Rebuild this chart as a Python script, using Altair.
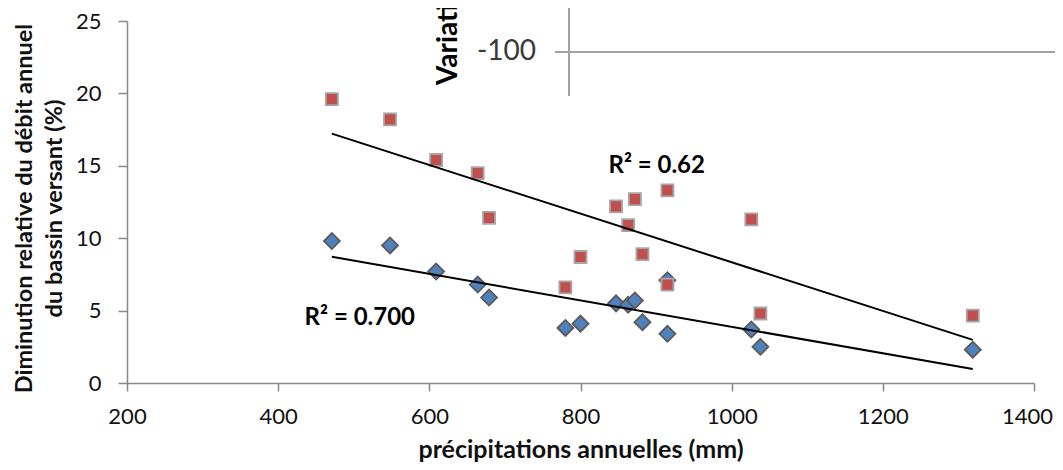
import altair as alt
import pandas as pd

# Data
precip = [471, 548, 609, 664, 679, 780, 800, 847, 863, 872, 882, 915, 915, 1026, 1038, 1319]
dim_blue = [9.8, 9.5, 7.7, 6.8, 5.9, 3.8, 4.1, 5.5, 5.4, 5.7, 4.2, 3.4, 7.1, 3.7, 2.5, 2.3]
dim_red = [19.6, 18.2, 15.4, 14.5, 11.4, 6.6, 8.7, 12.2, 10.9, 12.7, 8.9, 13.3, 6.8, 11.3, 4.8, 4.65]

x_ticks = [200, 400, 600, 800, 1000, 1200, 1400]
y_ticks = [0, 5, 10, 15, 20, 25]

r2_labels = ["R² = 0.62", "R² = 0.700"]
r2_x = [837, 435]
r2_y = [15.0, 4.5]

FONT = "Lato"
AX = "#888888"

df_b = pd.DataFrame({"P": precip, "D": dim_blue})
df_r = pd.DataFrame({"P": precip, "D": dim_red})
df_t = pd.DataFrame({"P": r2_x, "D": r2_y, "t": r2_labels})

xenc = alt.X(
    "P:Q",
    scale=alt.Scale(domain=[200, 1400], nice=False, zero=False),
    axis=alt.Axis(
        values=x_ticks, format="d", title="précipitations annuelles (mm)", grid=False,
        domainColor=AX, domainWidth=1.5, tickColor=AX, tickWidth=1.5, tickSize=8,
        labelFont=FONT, labelFontSize=22, labelColor="#111", labelPadding=15,
        labelOffset=alt.ExprRef(expr="datum.value == 1400 ? -7 : 0"),
        titleFont=FONT, titleFontSize=25, titleFontWeight="bold", titleColor="#111",
        titlePadding=10, labelFlush=False,
    ),
)
yenc = alt.Y(
    "D:Q",
    scale=alt.Scale(domain=[0, 25], nice=False),
    axis=alt.Axis(
        values=y_ticks,
        title=["Diminution relative du débit annuel", "du bassin versant (%)"],
        grid=False,
        domainColor=AX, domainWidth=1.5, tickColor=AX, tickWidth=1.5, tickSize=9,
        labelFont=FONT, labelFontSize=22, labelColor="#111", labelPadding=17,
        titleFont=FONT, titleFontSize=23.5, titleFontWeight="bold", titleColor="#111",
        titleLineHeight=30, titlePadding=9, titleY=187,
    ),
)

blue_pts = alt.Chart(df_b).mark_point(
    shape="diamond", filled=True, fill="#4F81BD", stroke="#5a5a5a",
    strokeWidth=1.8, size=256, opacity=1,
).encode(x=xenc, y=yenc)

red_pts = alt.Chart(df_r).mark_point(
    shape="square", filled=True, fill="#C0504D", stroke="#A6A6A6",
    strokeWidth=1.8, size=144, opacity=1,
).encode(x=xenc, y=yenc)

blue_fit = alt.Chart(df_b).transform_regression("P", "D").mark_line(
    color="black", strokeWidth=2
).encode(x=xenc, y=yenc)

red_fit = alt.Chart(df_r).transform_regression("P", "D").mark_line(
    color="black", strokeWidth=2
).encode(x=xenc, y=yenc)

r2_text = alt.Chart(df_t).mark_text(
    font=FONT, fontSize=24, fontWeight="bold", color="black",
    align="left", baseline="middle",
).encode(x=xenc, y=yenc, text="t:N")

# Fragment of an overlapping chart visible in the reference (top)
art_df = pd.DataFrame({"k": [0]})
art_h = alt.Chart(art_df).mark_rule(color="#a0a0a0", strokeWidth=2).encode(
    x=alt.value(428), x2=alt.value(940), y=alt.value(31)
)
art_v = alt.Chart(art_df).mark_rule(color="#a0a0a0", strokeWidth=2).encode(
    x=alt.value(442), y=alt.value(-21), y2=alt.value(75)
)
art_num = alt.Chart(art_df).mark_text(
    text="-100", font=FONT, fontSize=28, color="#3a3a3a", align="right", baseline="middle"
).encode(x=alt.value(409), y=alt.value(31))
art_title = alt.Chart(art_df).mark_text(
    text="Variation", font=FONT, fontSize=28, fontWeight="bold", color="black",
    align="left", baseline="middle", angle=270,
).encode(x=alt.value(322), y=alt.value(64))

chart = alt.layer(
    blue_pts, red_pts, blue_fit, red_fit, r2_text, art_h, art_v, art_num, art_title
).properties(
    width=907, height=362,
    autosize=alt.AutoSizeParams(type="none"),
    padding={"left": 119, "top": 13, "right": 21, "bottom": 79},
).configure_view(stroke=None)

chart.save("out.html", embed_options={"renderer": "svg", "actions": False})
